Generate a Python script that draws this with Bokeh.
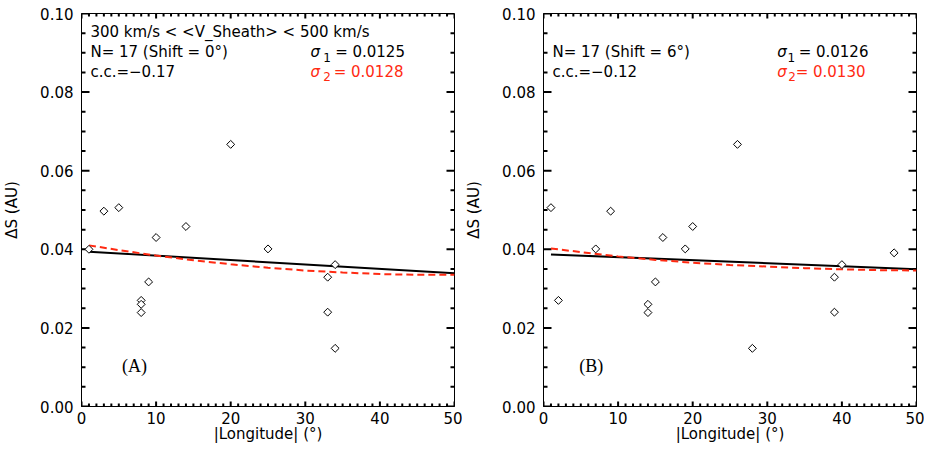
from bokeh.plotting import figure
from bokeh.layouts import row
from bokeh.models import Range1d, FixedTicker, NumeralTickFormatter
from bokeh.core.properties import value
from bokeh.embed import file_html
from bokeh.resources import INLINE

# ---------------- data ----------------
lon_A = [1, 3, 5, 8, 8, 8, 9, 10, 14, 20, 25, 33, 33, 34, 34]
ds_A = [0.0400, 0.0497, 0.0506, 0.0270, 0.0260, 0.0239, 0.0317, 0.0430,
        0.0458, 0.0667, 0.0401, 0.0329, 0.0240, 0.0361, 0.0148]
lon_B = [1, 2, 7, 9, 14, 14, 15, 16, 19, 20, 26, 28, 39, 39, 40, 47]
ds_B = [0.0506, 0.0270, 0.0401, 0.0497, 0.0260, 0.0239, 0.0317, 0.0430,
        0.0401, 0.0458, 0.0667, 0.0148, 0.0329, 0.0240, 0.0361, 0.0391]

fit_x = [1, 50]
lin_A = [0.0394, 0.0339]
lin_B = [0.0387, 0.0349]

curve_x = [1, 5, 10, 15, 20, 25, 30, 35, 40, 45, 50]
quad_A = [0.0410, 0.0398, 0.0384, 0.0372, 0.0362, 0.0353, 0.0346, 0.0341, 0.0337, 0.0335, 0.0335]
quad_B = [0.0402, 0.0393, 0.0382, 0.0373, 0.0366, 0.0360, 0.0356, 0.0352, 0.0349, 0.0347, 0.0346]

x_ticks = [0, 10, 20, 30, 40, 50]
x_minor = list(range(0, 51))
y_ticks = [0.00, 0.02, 0.04, 0.06, 0.08, 0.10]
y_minor = [0.000, 0.005, 0.010, 0.015, 0.020, 0.025, 0.030, 0.035, 0.040, 0.045, 0.050,
           0.055, 0.060, 0.065, 0.070, 0.075, 0.080, 0.085, 0.090, 0.095, 0.100]

header_A = ["300 km/s < <V_Sheath> < 500 km/s", "N= 17 (Shift = 0°)", "c.c.=−0.17"]
header_B = ["", "N= 17 (Shift = 6°)", "c.c.=−0.12"]
sigma_A = ["= 0.0125", "= 0.0128"]
sigma_B = ["= 0.0126", "= 0.0130"]

RED = "#ff2a12"
FONT = "DejaVu Sans"
X0, X1, Y0, Y1 = 0, 50, 0.0, 0.1
PI = 3.141592653589793
TICK_W = 2


def panel(lon, ds, lin, quad, header, sig, sig_x, sub_x, eq_x, tag, tag_x):
    p = figure(width=462, height=450, x_range=Range1d(X0, X1), y_range=Range1d(Y0, Y1),
               output_backend="svg", toolbar_location=None,
               min_border_left=81, min_border_right=8, min_border_top=13,
               min_border_bottom=44,
               x_axis_label="|Longitude| (°)", y_axis_label="ΔS (AU)")
    p.background_fill_color = "white"
    p.border_fill_color = "white"
    p.outline_line_color = "black"
    p.outline_line_width = 1
    p.xgrid.visible = False
    p.ygrid.visible = False

    ax = p.xaxis[0]
    ax.ticker = FixedTicker(ticks=x_ticks, minor_ticks=x_minor)
    ay = p.yaxis[0]
    ay.ticker = FixedTicker(ticks=y_ticks, minor_ticks=y_minor)
    ay.formatter = NumeralTickFormatter(format="0.00")
    for a in (ax, ay):
        a.major_tick_in = 0
        a.major_tick_out = 0
        a.minor_tick_in = 0
        a.minor_tick_out = 0
        a.axis_line_color = "black"
        a.major_label_text_color = "black"
        a.major_label_text_font = FONT
        a.major_label_text_font_size = "15px"
        a.axis_label_text_font = FONT
        a.axis_label_text_font_size = "15px"
        a.axis_label_text_font_style = "normal"
        a.axis_label_text_color = "black"
    ax.major_label_standoff = 5
    ax.axis_label_standoff = -2
    ay.major_label_standoff = 8
    ay.axis_label_standoff = 16

    # inward tick marks on all four frame edges
    ymn = [v for v in y_minor if v not in y_ticks]
    xmn = [v for v in x_minor if v not in x_ticks]
    for edge, ang in ((X0, 0.0), (X1, PI)):
        p.ray(x=[edge] * len(y_ticks), y=y_ticks, length=8, length_units="screen", angle=ang,
              line_color="black", line_width=TICK_W)
        p.ray(x=[edge] * len(ymn), y=ymn, length=4, length_units="screen", angle=ang,
              line_color="black", line_width=TICK_W)
    for edge, ang in ((Y0, PI / 2), (Y1, -PI / 2)):
        p.ray(x=x_ticks, y=[edge] * len(x_ticks), length=5, length_units="screen", angle=ang,
              line_color="black", line_width=TICK_W)
        p.ray(x=xmn, y=[edge] * len(xmn), length=3, length_units="screen", angle=ang,
              line_color="black", line_width=TICK_W)

    # fits
    p.line(fit_x, lin, line_color="black", line_width=2)
    p.line(curve_x, quad, line_color=RED, line_width=2, line_dash="7 4")
    # data
    p.scatter(lon, ds, marker="square", size=5.6, angle=0.785398,
              fill_color="white", line_color="black", line_width=1)

    # header text
    ys = [0.0952, 0.0901, 0.0850]
    hx = [1.2, 1.2, 1.2]
    keep = [i for i, t in enumerate(header) if t]
    p.text(x=[hx[i] for i in keep], y=[ys[i] for i in keep], text=[header[i] for i in keep],
           text_font=value(FONT), text_font_size="15px", text_baseline="middle",
           text_align="left", text_color="black")
    # sigma lines
    p.text(x=[sig_x[0]], y=[ys[1]], text=["σ"], text_font=value(FONT), text_font_size="15px",
           text_font_style="italic", text_baseline="middle", text_color="black")
    p.text(x=[sub_x[0]], y=[0.0888], text=["1"], text_font=value(FONT), text_font_size="12px",
           text_baseline="middle", text_color="black")
    p.text(x=[eq_x[0]], y=[ys[1]], text=[sig[0]], text_font=value(FONT), text_font_size="15px",
           text_baseline="middle", text_color="black")
    p.text(x=[sig_x[1]], y=[ys[2]], text=["σ"], text_font=value(FONT), text_font_size="15px",
           text_font_style="italic", text_baseline="middle", text_color=RED)
    p.text(x=[sub_x[1]], y=[0.0840], text=["2"], text_font=value(FONT), text_font_size="12px",
           text_baseline="middle", text_color=RED)
    p.text(x=[eq_x[1]], y=[ys[2]], text=[sig[1]], text_font=value(FONT), text_font_size="15px",
           text_baseline="middle", text_color=RED)
    # panel tag
    p.text(x=[tag_x], y=[0.0104], text=[tag], text_font=value("Liberation Serif"),
           text_font_size="18px", text_baseline="middle", text_align="center", text_color="black")
    return p


p1 = panel(lon_A, ds_A, lin_A, quad_A, header_A, sigma_A,
           [30.7, 30.7], [32.4, 32.4], [34.0, 33.8], "(A)", 7.1)
p2 = panel(lon_B, ds_B, lin_B, quad_B, header_B, sigma_B,
           [31.35, 31.35], [32.7, 32.8], [34.2, 33.8], "(B)", 6.4)

layout = row(p1, p2)
open("out.html", "w").write(file_html(layout, INLINE))
